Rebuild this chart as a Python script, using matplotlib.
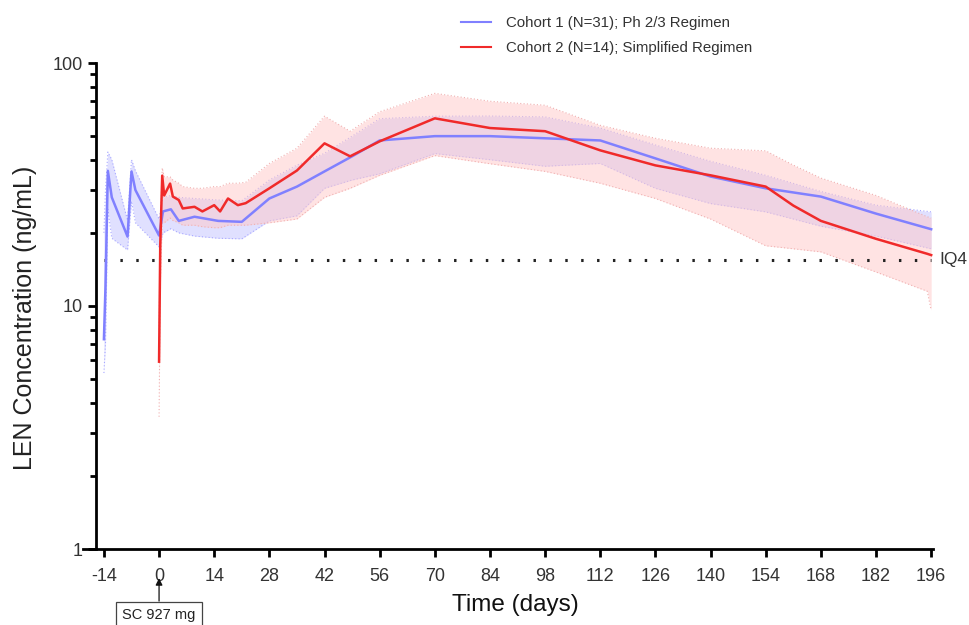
import numpy as np
import matplotlib.pyplot as plt
from matplotlib.ticker import LogLocator, NullFormatter, FixedLocator

plt.rcParams['font.family'] = ['Liberation Sans', 'DejaVu Sans']

# ---- Cohort 1 (Ph 2/3 regimen) ----
c1_day = [-14, -13.6, -13, -12, -8, -7, -6, 0, 1, 3, 5, 9, 15, 21,
          28, 35, 42, 49, 56, 70, 84, 98, 112, 126, 140, 154, 168, 182, 196]
c1_mean = [7.3, 12, 36, 28, 19.3, 35.8, 30, 19.5, 24.5, 25, 22.4, 23.3, 22.4, 22.2,
           27.7, 31, 35.8, 41.3, 48, 50, 50, 49, 48, 40.5, 34.1, 30.5, 28.2, 24, 20.7]
c1_lo = [5.3, 7, 25, 19, 17, 27, 22, 17.5, 20, 20.8, 20, 19.4, 19, 18.9,
         22.4, 23.5, 30.5, 33, 35, 42.4, 40, 37.6, 38.6, 30.5, 26.4, 24.4, 21.3, 19.4, 17.2]
c1_hi = [20, 30, 43, 40, 22.5, 40, 36, 22.8, 28, 28.5, 28, 27.7, 27.3, 27.1,
         33, 38, 42.5, 50, 59, 60.4, 60.5, 60, 54, 46, 39.4, 34.5, 29.6, 26, 24.4]

# ---- Cohort 2 (simplified regimen) ----
c2_day = [0, 0.3, 0.8, 1.3, 2.8, 3.5, 5, 6, 9, 11, 14, 15.5, 17.5, 20, 22,
          28, 35, 42, 48.5, 56, 70, 84, 98, 112, 126, 140, 154, 161, 168, 182, 195, 196]
c2_mean = [5.9, 17.7, 34.4, 28.5, 31.9, 28.2, 27.3, 25.2, 25.6, 24.5, 26, 24.5, 27.7, 26, 26.5,
           30.5, 36.1, 46.7, 41.3, 47.6, 59.2, 54, 52.4, 43.7, 37.9, 34.5, 31, 25.9, 22.4, 18.9,
           16.4, 16.2]
c2_lo = [3.5, 12, 22, 22, 23, 22.5, 22, 21.5, 21.5, 21.2, 21, 21, 21.5, 21.5, 21.5,
         22, 22.8, 28, 30.5, 34.5, 41.6, 38.5, 35.8, 32, 27.7, 22.8, 17.7, 17.2, 16.7, 13.8,
         11.5, 9.6]
c2_hi = [8, 20, 37, 34, 34, 33, 32, 31, 30.5, 30.5, 31, 31, 32, 32, 32.3,
         38.6, 44.6, 60.4, 52.4, 63, 75, 69.6, 67, 55.4, 49, 44.6, 43.5, 38, 33.6, 28.5,
         23.3, 23]

iq4 = 15.5
x_ticks = list(range(-14, 197, 14))

fig = plt.figure(figsize=(9.7, 6.25), dpi=100)
ax = fig.add_axes([0.0856, 0.1216, 0.876, 0.7776])

blue = '#8080ff'
red = '#f02a2a'

ax.fill_between(c1_day, c1_lo, c1_hi, color='#c8c8ff', alpha=0.55, lw=0, zorder=1)
ax.plot(c1_day, c1_lo, color='#a8a8ff', lw=0.8, ls=(0, (1, 2)), zorder=1)
ax.plot(c1_day, c1_hi, color='#a8a8ff', lw=0.8, ls=(0, (1, 2)), zorder=1)
ax.fill_between(c2_day, c2_lo, c2_hi, color='#ffc8c8', alpha=0.5, lw=0, zorder=1)
ax.plot(c2_day, c2_lo, color='#f0b0b0', lw=0.8, ls=(0, (1, 2)), zorder=1)
ax.plot(c2_day, c2_hi, color='#f0b0b0', lw=0.8, ls=(0, (1, 2)), zorder=1)

ax.plot(c1_day, c1_mean, color=blue, lw=1.8, zorder=3,
        label='Cohort 1 (N=31); Ph 2/3 Regimen')
ax.plot(c2_day, c2_mean, color=red, lw=1.8, zorder=4,
        label='Cohort 2 (N=14); Simplified Regimen')

# IQ4 threshold
ax.plot([-14, 196], [iq4, iq4], color='#222222', lw=2.2, ls=(0, (0.8, 4.4)), zorder=2)
ax.text(198, iq4, 'IQ4', fontsize=12.5, color='#333333', va='center', ha='left',
        clip_on=False)

ax.set_yscale('log')
ax.set_ylim(1, 100)
ax.set_xlim(-19.3, 196.4)
ax.yaxis.set_major_locator(FixedLocator([1, 10, 100]))
ax.set_yticklabels(['1', '10', '100'])
ax.yaxis.set_minor_locator(LogLocator(base=10, subs=np.arange(2, 10)))
ax.yaxis.set_minor_formatter(NullFormatter())
ax.set_xticks(x_ticks)
ax.set_xticklabels([str(t) for t in x_ticks])

for s in ['top', 'right']:
    ax.spines[s].set_visible(False)
ax.spines['left'].set_position(('data', -16))
ax.spines['left'].set_linewidth(2)
ax.spines['bottom'].set_linewidth(2)
ax.tick_params(axis='both', which='major', direction='out', length=6, width=2,
               labelsize=13, labelcolor='#333333')
ax.tick_params(axis='x', which='major', pad=7.5)
ax.tick_params(axis='y', which='minor', direction='out', length=4, width=2)

fig.text(25 / 970, 1 - 318 / 625, 'LEN Concentration (ng/mL)', rotation=90,
         ha='center', va='center', fontsize=18, color='#222222')
fig.text(515 / 970, 1 - 605 / 625, 'Time (days)', ha='center', va='center',
         fontsize=17.5, color='#111111')

# dosing annotation below the axis
ax.annotate('SC 927 mg', xy=(0, -0.06), xycoords=('data', 'axes fraction'),
            xytext=(0, -0.136), textcoords=('data', 'axes fraction'),
            ha='center', va='center', fontsize=10.5, color='#222222',
            bbox=dict(boxstyle='square,pad=0.45', fc='white', ec='#444444', lw=0.9),
            arrowprops=dict(arrowstyle='-|>', color='#111111', lw=0.9, mutation_scale=10,
                            shrinkA=0, shrinkB=0),
            annotation_clip=False)

leg = ax.legend(loc='upper left', bbox_to_anchor=(0.4295, 1.125), frameon=False,
                fontsize=10.8, handlelength=2, handletextpad=1.0, labelspacing=0.75)
for t in leg.get_texts():
    t.set_color('#333333')
for h in leg.get_lines():
    h.set_linewidth(1.5)

fig.savefig('out.png', dpi=100)
